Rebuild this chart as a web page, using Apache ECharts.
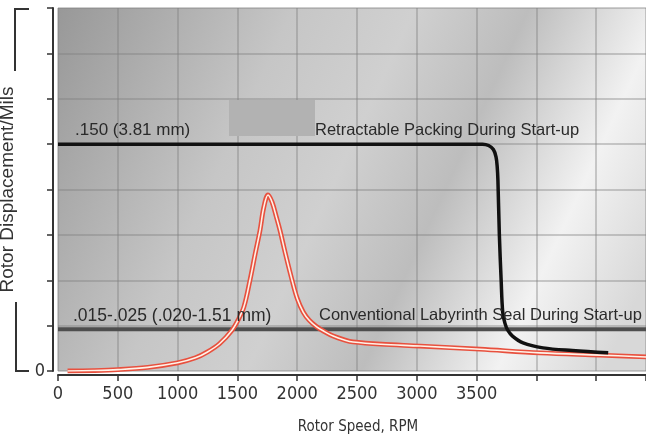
<!DOCTYPE html>
<html>
<head>
<meta charset="utf-8">
<script src="https://cdn.jsdelivr.net/npm/echarts@6/dist/echarts.min.js"></script>
<style>
  html, body { margin: 0; padding: 0; background: #ffffff; }
  #chart { width: 646px; height: 436px; }
</style>
</head>
<body>
<div id="chart"></div>
<script>
// Rotor speed axis (RPM) and displacement axis (grid units)
const xTickLabels = ['0', '500', '1000', '1500', '2000', '2500', '3000', '3500'];
const yTickLabels = ['0'];

// Retractable packing: holds clearance, then retracts near 3700 RPM
const packingRpm = [0, 3550, 3600, 3640, 3662, 3672, 3678, 3690, 3705, 3718, 3737, 3760, 3800, 3888, 4055, 4300, 4600];
const packingDisp = [5.0, 5.0, 4.97, 4.88, 4.72, 4.5, 4.2, 3.0, 2.0, 1.3, 1.05, 0.9, 0.77, 0.62, 0.51, 0.45, 0.40];

// Conventional labyrinth seal clearance level
const labyrinthRpm = [0, 4916];
const labyrinthDisp = [0.92, 0.92];

// Rotor response through the critical speed
const responseRpm = [80, 300, 500, 750, 1000, 1150, 1250, 1350, 1455, 1505, 1555, 1605, 1650, 1689, 1720, 1756, 1790, 1825, 1856, 1900, 1957, 2000, 2050, 2100, 2160, 2220, 2300, 2400, 2466, 2700, 3027, 3528, 4030, 4532, 4916];
const responseDisp = [0.0, 0.01, 0.03, 0.08, 0.18, 0.29, 0.42, 0.6, 0.9, 1.12, 1.42, 2.0, 2.6, 3.1, 3.6, 3.88, 3.72, 3.4, 3.1, 2.6, 2.0, 1.6, 1.3, 1.12, 0.98, 0.88, 0.77, 0.68, 0.64, 0.59, 0.55, 0.48, 0.40, 0.35, 0.31];

const pairs = (xs, ys) => xs.map((x, i) => [x, ys[i]]);

const narrow = '"Liberation Sans Narrow", "DejaVu Sans Condensed", "Liberation Sans", sans-serif';
const sans = '"Liberation Sans", Arial, sans-serif';

const chart = echarts.init(document.getElementById('chart'), null, { renderer: 'canvas' });

chart.setOption({
  animation: false,
  backgroundColor: '#ffffff',
  grid: {
    left: 58, top: 8, right: 0, bottom: 65,
    containLabel: false,
    outerBoundsMode: 'none',
    show: true,
    borderWidth: 0,
    // brushed-metal style plot face
    backgroundColor: {
      type: 'linear', x: 0, y: 0, x2: 1, y2: 0.75,
      colorStops: [
        { offset: 0, color: '#989898' },
        { offset: 0.33, color: '#c6c6c6' },
        { offset: 0.5, color: '#d0d0d0' },
        { offset: 0.66, color: '#bdbdbd' },
        { offset: 0.85, color: '#f2f2f2' },
        { offset: 1, color: '#d8d8d8' }
      ]
    }
  },
  xAxis: {
    type: 'value', min: 0, max: 4916, interval: 500,
    offset: 4,
    axisLine: { show: true, onZero: false, lineStyle: { color: '#333', width: 2 } },
    axisTick: { show: true, length: 6, lineStyle: { color: '#333', width: 1.5 } },
    axisLabel: {
      margin: 10, color: '#333', fontFamily: narrow, fontSize: 18,
      formatter: v => { const s = String(v); return xTickLabels.includes(s) ? s : ''; }
    },
    splitLine: { show: true, lineStyle: { color: 'rgba(125,125,125,0.5)', width: 1.5 } },
    name: 'Rotor Speed, RPM',
    nameLocation: 'middle', nameGap: 45,
    nameTextStyle: { color: '#333', fontFamily: narrow, fontSize: 15, padding: [0, 0, 0, 12] }
  },
  yAxis: {
    type: 'value', min: 0, max: 8, interval: 1,
    offset: 5,
    axisLine: { show: true, onZero: false, lineStyle: { color: '#333', width: 2 } },
    axisTick: { show: true, length: 6, lineStyle: { color: '#333', width: 1.5 } },
    axisLabel: {
      margin: 8, color: '#333', fontFamily: narrow, fontSize: 18,
      formatter: v => { const s = String(v); return yTickLabels.includes(s) ? s : ''; }
    },
    splitLine: { show: true, lineStyle: { color: 'rgba(125,125,125,0.5)', width: 1.5 } },
    name: 'Rotor Displacement/Mils',
    nameLocation: 'middle', nameGap: 36, nameRotate: 90,
    nameTextStyle: { color: '#333', fontFamily: sans, fontSize: 19 }
  },
  series: [
    {
      name: 'Conventional Labyrinth Seal During Start-up',
      type: 'line', data: pairs(labyrinthRpm, labyrinthDisp),
      symbol: 'none', lineStyle: { color: '#4e4e4e', width: 4 }, z: 2
    },
    {
      name: 'Rotor Response',
      type: 'line', data: pairs(responseRpm, responseDisp),
      smooth: 0.35, symbol: 'none', lineStyle: { color: '#e8503e', width: 4.8 }, z: 3
    },
    {
      name: 'Rotor Response Core',
      type: 'line', data: pairs(responseRpm, responseDisp),
      smooth: 0.35, symbol: 'none', lineStyle: { color: '#fff2e8', width: 1.6 }, z: 4
    },
    {
      name: 'Retractable Packing During Start-up',
      type: 'line', data: pairs(packingRpm, packingDisp),
      smooth: 0.35, symbol: 'none', lineStyle: { color: '#111111', width: 3.5 }, z: 5
    }
  ],
  graphic: [
    // bracket marks beside the vertical axis title
    { type: 'polyline', shape: { points: [[29, 9], [15, 9], [15, 71]] }, style: { stroke: '#333', lineWidth: 2, fill: null } },
    { type: 'polyline', shape: { points: [[16, 302], [16, 371], [29, 371]] }, style: { stroke: '#333', lineWidth: 2, fill: null } },
    // grey block over the plot
    { type: 'rect', shape: { x: 229, y: 100, width: 86, height: 36 }, style: { fill: '#b2b2b2' }, z: 10 },
    // annotation texts
    { type: 'text', left: 75, top: 122, style: { text: '.150 (3.81 mm)', fill: '#2a2a2a', font: '17px ' + sans }, z: 10 },
    { type: 'text', left: 315, top: 122, style: { text: 'Retractable Packing During Start-up', fill: '#2a2a2a', font: '16.5px ' + sans }, z: 10 },
    { type: 'text', left: 73, top: 307, style: { text: '.015-.025 (.020-1.51 mm)', fill: '#2a2a2a', font: '17.5px ' + sans }, z: 10 },
    { type: 'text', left: 319, top: 307, style: { text: 'Conventional Labyrinth Seal During Start-up', fill: '#2a2a2a', font: '16.5px ' + sans }, z: 10 }
  ]
});
</script>
</body>
</html>
